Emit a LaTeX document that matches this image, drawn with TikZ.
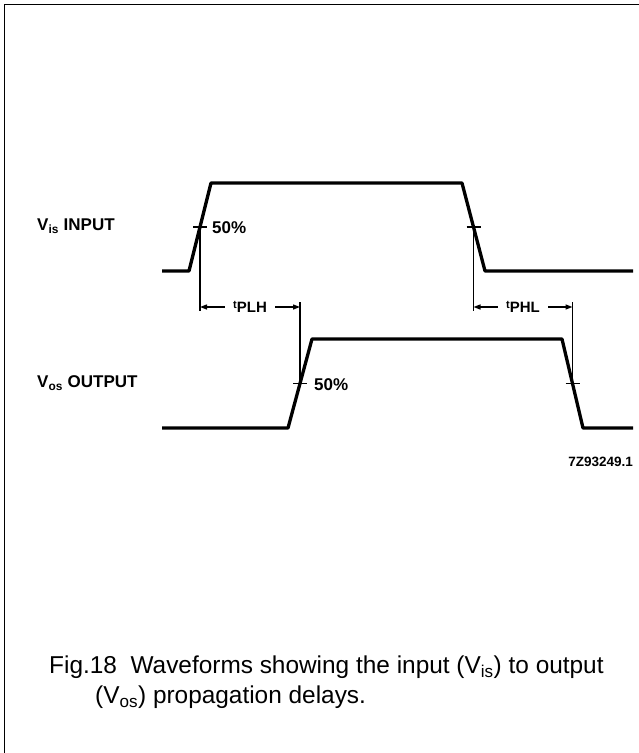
\documentclass[tikz,border=0pt]{standalone}
\usepackage{fontspec}
\setmainfont{Liberation Sans}
\usetikzlibrary{arrows.meta,calc}

\begin{document}
\begin{tikzpicture}[x=1pt,y=-1pt,
  wave/.style={line width=3.3pt,line join=round},
  guide/.style={line width=1.1pt},
  tickln/.style={line width=1.3pt},
  dim/.style={-{Triangle[length=7pt,width=5pt]},line width=1.3pt},
  lbl/.style={anchor=west,inner sep=0pt,font=\fontsize{17}{17}\selectfont\bfseries},
  pct/.style={anchor=west,inner sep=0pt,font=\fontsize{17}{17}\selectfont\bfseries},
  dimlbl/.style={inner xsep=8pt,inner ysep=0pt,font=\fontsize{15}{15}\selectfont\bfseries},
  capt/.style={anchor=west,inner sep=0pt,font=\fontsize{24.4}{24.4}\selectfont}
]
\useasboundingbox (0,0) rectangle (639,753);
% frame (top and left edge only)
\draw[line width=1.5pt] (4.5,753) -- (4.5,4.5) -- (639,4.5);

% input waveform
\coordinate (i0) at (162,271);
\coordinate (i1) at (189,271);
\coordinate (i2) at (211,183);
\coordinate (i3) at (462,183);
\coordinate (i4) at (485,271);
\coordinate (i5) at (633,271);
\draw[wave] (i0) -- (i1) -- (i2) -- (i3) -- (i4) -- (i5);

% output waveform
\coordinate (o0) at (162,428);
\coordinate (o1) at (288,428);
\coordinate (o2) at (312,339);
\coordinate (o3) at (562,339);
\coordinate (o4) at (583,428);
\coordinate (o5) at (633,428);
\draw[wave] (o0) -- (o1) -- (o2) -- (o3) -- (o4) -- (o5);

% 50% points
\coordinate (ir) at ($(i1)!.5!(i2)$);
\coordinate (if) at ($(i3)!.5!(i4)$);
\coordinate (or) at ($(o1)!.5!(o2)$);
\coordinate (of) at ($(o3)!.5!(o4)$);
\foreach \p in {ir,if,or,of}
  \draw[tickln] ([xshift=-7pt]\p) -- ([xshift=7pt]\p);

% labels
\node[lbl] (vin) at (37,226) {V\textsubscript{is} INPUT};
\node[lbl] (vout) at (37,383) {V\textsubscript{os} OUTPUT};
\node[pct] (pin) at (212,228) {50\%};
\node[pct] (pout) at (314,385) {50\%};
\node[anchor=east,inner sep=0pt,font=\fontsize{13.5}{13.5}\selectfont\bfseries] (code) at (633,462) {7Z93249.1};

% delay dimensions
\coordinate (dl) at (0,307);
\draw[guide] (ir) -- ($(ir |- dl)+(0,4)$);
\draw[guide] (if) -- ($(if |- dl)+(0,4)$);
\draw[guide] (or) -- ($(or |- dl)+(0,-5)$);
\draw[guide] (of) -- ($(of |- dl)+(0,-5)$);
\node[dimlbl] (tplh) at ($(ir |- dl)!.5!(or |- dl)$) {\raisebox{4pt}{\fontsize{11}{11}\selectfont t}PLH};
\node[dimlbl] (tphl) at ($(if |- dl)!.5!(of |- dl)$) {\raisebox{4pt}{\fontsize{11}{11}\selectfont t}PHL};
\draw[dim] (tplh.west) -- (ir |- dl);
\draw[dim] (tplh.east) -- (or |- dl);
\draw[dim] (tphl.west) -- (if |- dl);
\draw[dim] (tphl.east) -- (of |- dl);

% caption
\node[capt] (cap1) at (49,667) {Fig.18\ \ Waveforms showing the input (V\textsubscript{is}) to output};
\node[capt] (cap2) at (95,697) {(V\textsubscript{os}) propagation delays.};
\end{tikzpicture}
\end{document}
